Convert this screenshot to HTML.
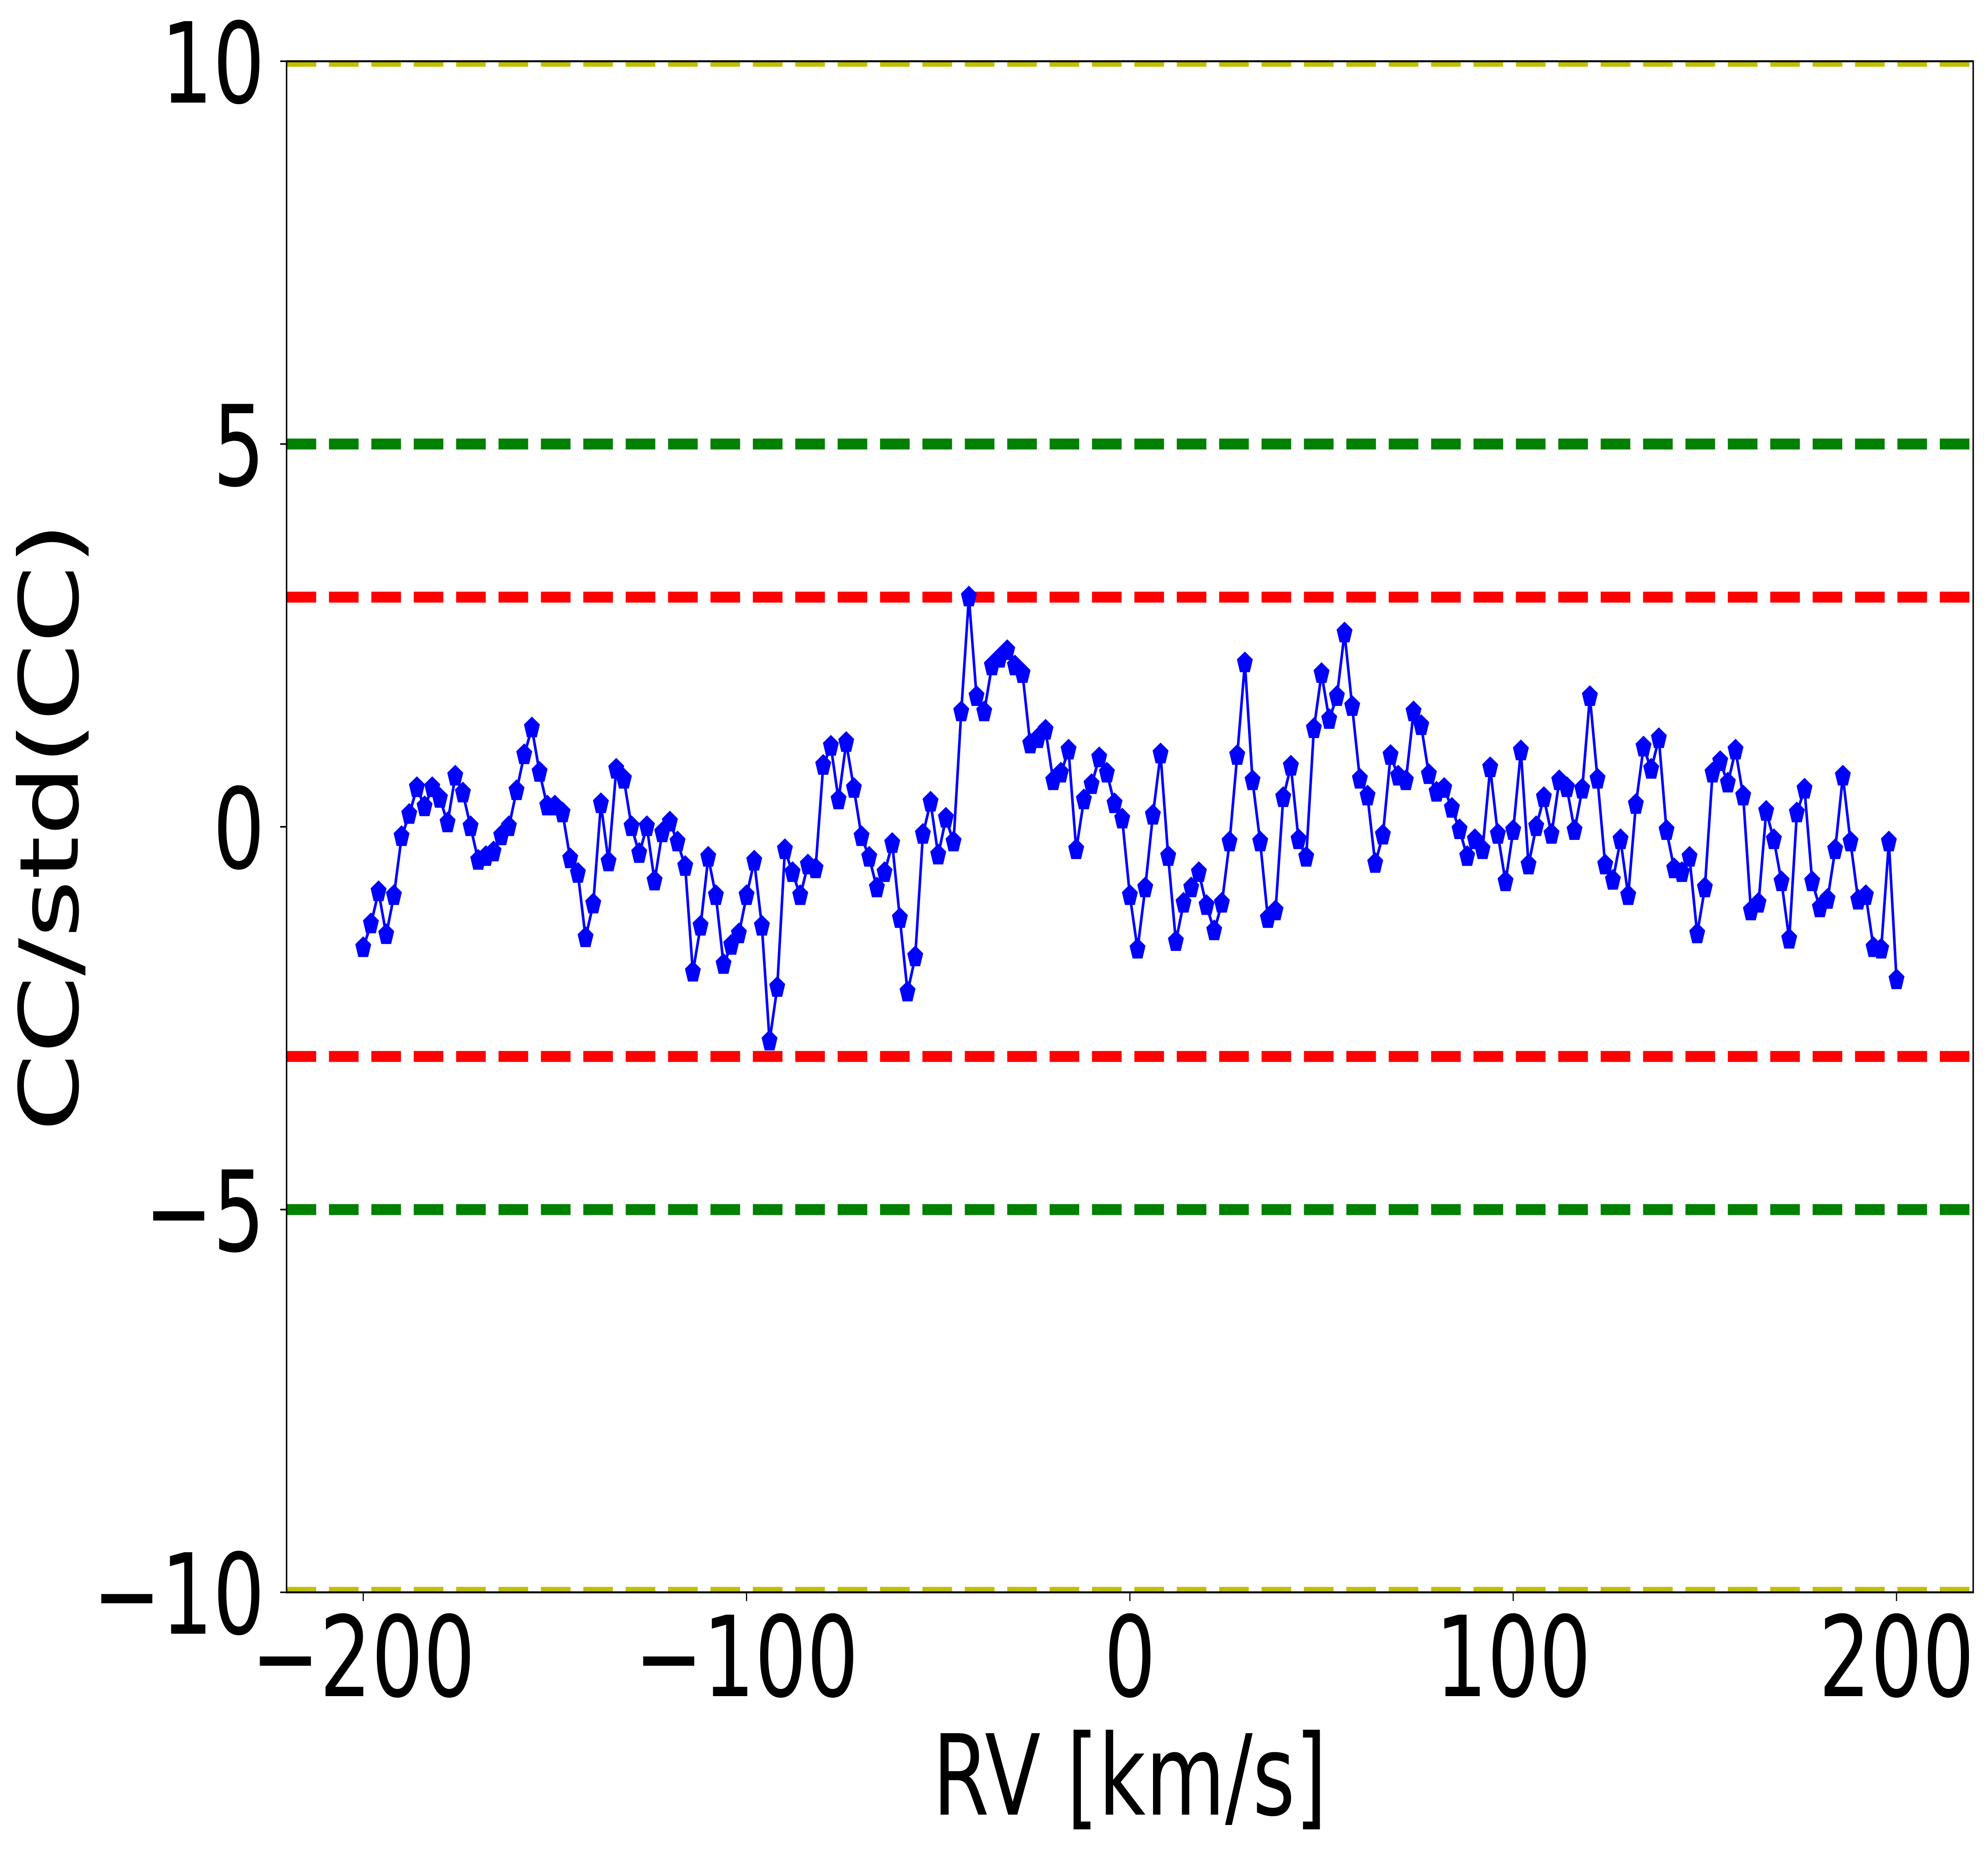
<!DOCTYPE html>
<html><head><meta charset="utf-8"><style>
html,body{margin:0;padding:0;background:#fff;overflow:hidden;width:100%;height:100%;}
svg{display:block;width:100vw;height:100vh;}
text{font-family:"DejaVu Sans","Liberation Sans",sans-serif;fill:#000;}
</style></head>
<body>
<svg id="chart" xmlns="http://www.w3.org/2000/svg" viewBox="0 0 6847 4667" preserveAspectRatio="none">
<rect x="0" y="0" width="6847" height="4667" fill="#fff"/>
<text x="3891" y="4563" font-size="281" text-anchor="middle">RV [km/s]</text>
<text transform="translate(268,2079) rotate(-90)" font-size="281" text-anchor="middle">CC/std(CC)</text>
</svg>
<script>
const rv = [-200,-198,-196,-194,-192,-190,-188,-186,-184,-182,-180,-178,-176,-174,-172,-170,-168,-166,-164,-162,-160,-158,-156,-154,-152,-150,-148,-146,-144,-142,-140,-138,-136,-134,-132,-130,-128,-126,-124,-122,-120,-118,-116,-114,-112,-110,-108,-106,-104,-102,-100,-98,-96,-94,-92,-90,-88,-86,-84,-82,-80,-78,-76,-74,-72,-70,-68,-66,-64,-62,-60,-58,-56,-54,-52,-50,-48,-46,-44,-42,-40,-38,-36,-34,-32,-30,-28,-26,-24,-22,-20,-18,-16,-14,-12,-10,-8,-6,-4,-2,0,2,4,6,8,10,12,14,16,18,20,22,24,26,28,30,32,34,36,38,40,42,44,46,48,50,52,54,56,58,60,62,64,66,68,70,72,74,76,78,80,82,84,86,88,90,92,94,96,98,100,102,104,106,108,110,112,114,116,118,120,122,124,126,128,130,132,134,136,138,140,142,144,146,148,150,152,154,156,158,160,162,164,166,168,170,172,174,176,178,180,182,184,186,188,190,192,194,196,198,200];
const ccNorm = [-1.58,-1.27,-0.85,-1.41,-0.9,-0.13,0.16,0.51,0.26,0.51,0.37,0.05,0.66,0.44,0.0,-0.44,-0.39,-0.33,-0.12,0.0,0.47,0.94,1.29,0.71,0.27,0.27,0.18,-0.42,-0.61,-1.45,-1.01,0.3,-0.46,0.75,0.62,0.0,-0.35,0.0,-0.71,-0.08,0.06,-0.2,-0.52,-1.9,-1.3,-0.4,-0.9,-1.8,-1.55,-1.4,-0.9,-0.45,-1.3,-2.8,-2.1,-0.3,-0.6,-0.9,-0.5,-0.55,0.8,1.05,0.35,1.1,0.5,-0.13,-0.4,-0.8,-0.6,-0.22,-1.2,-2.16,-1.7,-0.1,0.32,-0.37,0.11,-0.2,1.5,3.0,1.7,1.5,2.1,2.2,2.3,2.1,2.0,1.08,1.15,1.26,0.6,0.7,1.0,-0.3,0.35,0.55,0.9,0.7,0.3,0.1,-0.9,-1.6,-0.8,0.15,0.95,-0.39,-1.5,-1.0,-0.8,-0.6,-1.03,-1.36,-1.0,-0.2,0.93,2.14,0.6,-0.2,-1.2,-1.1,0.38,0.79,-0.17,-0.4,1.28,2.0,1.4,1.7,2.53,1.57,0.62,0.4,-0.48,-0.11,0.93,0.66,0.6,1.5,1.32,0.68,0.45,0.5,0.24,-0.04,-0.39,-0.17,-0.3,0.77,-0.1,-0.72,-0.05,0.99,-0.5,0.0,0.38,-0.1,0.6,0.51,-0.05,0.49,1.7,0.62,-0.5,-0.7,-0.17,-0.9,0.29,1.04,0.75,1.15,-0.05,-0.55,-0.6,-0.4,-1.4,-0.8,0.7,0.85,0.57,1.0,0.4,-1.1,-1.0,0.2,-0.17,-0.72,-1.47,0.18,0.49,-0.72,-1.06,-0.95,-0.3,0.66,-0.2,-0.96,-0.9,-1.58,-1.6,-0.2,-2.0];
const xTicks = [-200,-100,0,100,200];
const xTickLabels = ["\u2212200","\u2212100","0","100","200"];
const yTicks = [-10,-5,0,5,10];
const yTickLabels = ["\u221210","\u22125","0","5","10"];
const hLevels = [10,5,3,-3,-5,-10];
const hColors = ["#bfbf00","#008000","#ff0000","#ff0000","#008000","#bfbf00"];

const L=987,R=6796,T=154,B=4004,XMIN=-220,XMAX=220,YMIN=-10,YMAX=10;
function sx(v){return L+(v-XMIN)/(XMAX-XMIN)*(R-L);}
function sy(v){return B-(v-YMIN)/(YMAX-YMIN)*(B-T);}
const NS="http://www.w3.org/2000/svg";
const svg=document.getElementById('chart');
function mk(tag,attrs,parent){const e=document.createElementNS(NS,tag);for(const k in attrs)e.setAttribute(k,attrs[k]);(parent||svg).appendChild(e);return e;}
const clip=mk('clipPath',{id:'clp'});mk('rect',{x:L,y:T,width:R-L,height:B-T},clip);
const g=mk('g',{'clip-path':'url(#clp)'});


hLevels.forEach((lv,i)=>{
  const ln=mk('line',{x1:L,x2:R,y1:sy(lv),y2:sy(lv),stroke:hColors[i],'stroke-width':27.6,'stroke-dasharray':'102 44'},g);
  
  
});
let d='';
rv.forEach((v,i)=>{d+=(i?'L':'M')+sx(v).toFixed(1)+','+sy(ccNorm[i]).toFixed(1);});
const path=mk('path',{d:d,fill:'none',stroke:'#0000ff','stroke-width':9,'stroke-linejoin':'round'},g);


rv.forEach((v,i)=>{
  const cx=sx(v),cy=sy(ccNorm[i]),r=27;let pts=[];
  for(let k=0;k<5;k++){const a=-Math.PI/2+k*2*Math.PI/5;pts.push((cx+r*Math.cos(a)).toFixed(1)+','+(cy+r*Math.sin(a)).toFixed(1));}
  const m=mk('polygon',{points:pts.join(' '),fill:'#0000ff',stroke:'#0000ff','stroke-width':3},g);
  
  
});
const frame=mk('rect',{x:L,y:T,width:R-L,height:B-T,fill:'none',stroke:'#000','stroke-width':5});


xTicks.forEach((v,i)=>{
  const t=mk('line',{x1:sx(v),x2:sx(v),y1:B,y2:B+22,stroke:'#000','stroke-width':4});
  
  
  const tx=mk('text',{x:sx(v),y:4265,'font-size':281,'text-anchor':'middle'});
  tx.textContent=xTickLabels[i];
  
  
});
yTicks.forEach((v,i)=>{
  const t=mk('line',{x1:L-22,x2:L,y1:sy(v),y2:sy(v),stroke:'#000','stroke-width':4});
  
  
  const tx=mk('text',{x:912,y:sy(v)+104,'font-size':281,'text-anchor':'end'});
  tx.textContent=yTickLabels[i];
  
  
});
</script>
</body></html>
